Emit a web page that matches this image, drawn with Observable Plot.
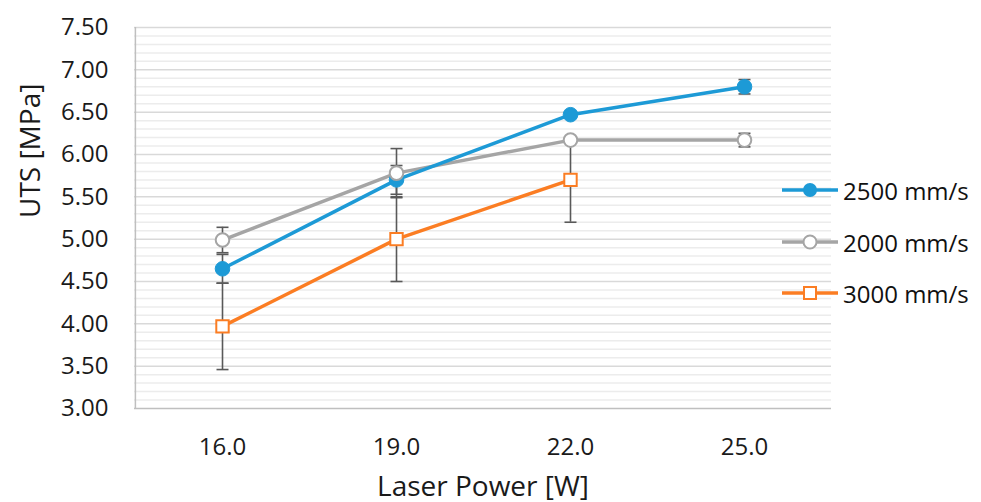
<!DOCTYPE html>
<html><head><meta charset="utf-8">
<script src="https://cdn.jsdelivr.net/npm/d3@7"></script>
<script src="https://cdn.jsdelivr.net/npm/@observablehq/plot@0.6"></script>
<style>
body{margin:0;background:#fff;}
#wrap{position:relative;width:981px;height:502px;font-family:"Open Sans",sans-serif;}
.item{position:absolute;left:782px;height:30px;display:flex;align-items:center;white-space:nowrap;font-size:24px;color:#111;}
.item svg{margin-right:5px;}
</style></head><body><div id="wrap"></div>
<script>
// ---- data ----
const powers = ["16.0", "19.0", "22.0", "25.0"];
const series = ["2500 mm/s", "2000 mm/s", "3000 mm/s"];
const uts2500 = [4.65, 5.70, 6.47, 6.80];
const err2500 = [0.17, 0.17, 0.03, 0.085];
const uts2000 = [4.99, 5.78, 6.17, 6.17];
const err2000 = [0.15, 0.29, 0.03, 0.08];
const uts3000 = [3.97, 5.00, 5.70];
const err3000 = [0.51, 0.50, 0.50];
const yTicks = [3.00, 3.50, 4.00, 4.50, 5.00, 5.50, 6.00, 6.50, 7.00, 7.50];
const colors = ["#1d9ad6", "#a5a5a5", "#fb7d23"];
const xTitle = "Laser Power [W]";
const yTitle = "UTS [MPa]";

// ---- table ----
const rows = [];
[[uts2500, err2500], [uts2000, err2000], [uts3000, err3000]].forEach(([vals, errs], si) => {
  vals.forEach((v, i) => rows.push({series: series[si], power: powers[i], uts: v, err: errs[i]}));
});
const bySeries = s => rows.filter(d => d.series === s);
const minorTicks = d3.range(3.0, 7.501, 0.1).filter(v => Math.abs(v * 2 - Math.round(v * 2)) > 1e-6);

const capSymbol = {
  draw(context, size) {
    const r = Math.sqrt(size / Math.PI);
    context.moveTo(-r, 0);
    context.lineTo(r, 0);
  }
};
const errColor = "#595959";

const plot = Plot.plot({
  width: 981,
  height: 502,
  marginLeft: 134,
  marginRight: 150,
  marginTop: 27,
  marginBottom: 94,
  style: {fontFamily: "'Open Sans', sans-serif", fontSize: "24px", color: "#1a1a1a", background: "#fff"},
  x: {type: "point", domain: powers, padding: 0.5},
  y: {domain: [3, 7.5]},
  marks: [
    Plot.ruleY(minorTicks, {stroke: "#ececec", strokeWidth: 1.5}),
    Plot.ruleY(yTicks.slice(1), {stroke: "#d9d9d9", strokeWidth: 1.5}),
    Plot.ruleY([3], {stroke: "#bfbfbf", strokeWidth: 1.5}),
    Plot.ruleX([0], {x: () => powers[0], dx: -87.1, y1: 3, y2: 7.5, stroke: "#bfbfbf", strokeWidth: 1.5}),
    // error bars
    Plot.ruleX(rows, {x: "power", y1: d => d.uts - d.err, y2: d => d.uts + d.err, stroke: errColor, strokeWidth: 1.6}),
    Plot.dot(rows, {x: "power", y: d => d.uts - d.err, symbol: capSymbol, r: 6, fill: "none", stroke: errColor, strokeWidth: 1.6}),
    Plot.dot(rows, {x: "power", y: d => d.uts + d.err, symbol: capSymbol, r: 6, fill: "none", stroke: errColor, strokeWidth: 1.6}),
    // lines
    Plot.line(bySeries(series[1]), {x: "power", y: "uts", stroke: colors[1], strokeWidth: 3.5}),
    Plot.line(bySeries(series[0]), {x: "power", y: "uts", stroke: colors[0], strokeWidth: 3.5}),
    Plot.line(bySeries(series[2]), {x: "power", y: "uts", stroke: colors[2], strokeWidth: 3.5}),
    // markers
    Plot.dot(bySeries(series[0]), {x: "power", y: "uts", r: 7.3, fill: colors[0], stroke: colors[0], strokeWidth: 1}),
    Plot.dot(bySeries(series[1]), {x: "power", y: "uts", r: 6.8, fill: "#fff", stroke: colors[1], strokeWidth: 2}),
    Plot.dot(bySeries(series[2]), {x: "power", y: "uts", symbol: "square", r: 7, fill: "#fff", stroke: colors[2], strokeWidth: 2}),
    // axes
    Plot.axisY({ticks: yTicks, tickFormat: d => d.toFixed(2), tickSize: 0, tickPadding: 26, fontSize: 24, label: null}),
    Plot.axisX({tickSize: 0, tickPadding: 29, fontSize: 24, label: null}),
    Plot.text([xTitle], {text: d => d, frameAnchor: "bottom", dy: 87, fontSize: 28}),
    Plot.text([yTitle], {text: d => d, frameAnchor: "left", dx: -103, rotate: -90, fontSize: 28})
  ]
});

const wrap = document.getElementById("wrap");
wrap.appendChild(plot);

// legend
const legendY = [190, 242, 293];
const markerFor = [
  (svg) => svg.append("circle").attr("cx", 28).attr("cy", 15).attr("r", 7).attr("fill", colors[0]),
  (svg) => svg.append("circle").attr("cx", 28).attr("cy", 15).attr("r", 6.5).attr("fill", "#fff").attr("stroke", colors[1]).attr("stroke-width", 2),
  (svg) => svg.append("rect").attr("x", 22).attr("y", 9).attr("width", 12).attr("height", 12).attr("fill", "#fff").attr("stroke", colors[2]).attr("stroke-width", 2)
];
series.forEach((s, i) => {
  const item = d3.select(wrap).append("div").attr("class", "item").style("top", (legendY[i] - 15) + "px");
  const svg = item.append("svg").attr("width", 56).attr("height", 30);
  svg.append("line").attr("x1", 0).attr("x2", 56).attr("y1", 15).attr("y2", 15).attr("stroke", colors[i]).attr("stroke-width", 3.5);
  markerFor[i](svg);
  item.append("span").text(s);
});
</script>
</body></html>
